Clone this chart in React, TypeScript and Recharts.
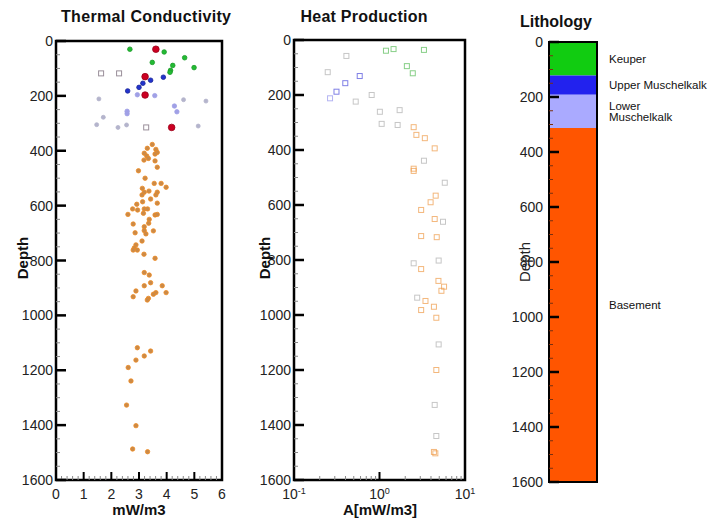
import React from "react";
import {
  Bar,
  BarChart,
  ReferenceArea,
  Scatter,
  ScatterChart,
  XAxis,
  YAxis
} from "recharts";

const FONT = '"Liberation Sans", Arial, sans-serif';

// depth axis (m), shared by all three panels
const depthLabels = [0, 200, 400, 600, 800, 1000, 1200, 1400, 1600];
const depthTicks = Array.from({ length: 33 }, (_, i) => i * 50);
const tcLabels = [0, 1, 2, 3, 4, 5, 6];
const tcTicks = Array.from({ length: 31 }, (_, i) => Math.round(i * 2) / 10);
const hpLabels = [0.1, 1, 10];
const hpTicks = [0.1, 0.2, 0.3, 0.4, 0.5, 0.6, 0.7, 0.8, 0.9, 1, 2, 3, 4, 5, 6, 7, 8, 9, 10];

// Thermal conductivity samples: [value, depth]
const tcKeuper = [[2.67, 30], [3.91, 40], [4.65, 61], [3.48, 78], [4.22, 89], [4.99, 97], [4.14, 107], [4.12, 114]];
const tcRed = [[3.61, 30], [3.22, 130], [3.22, 197], [4.18, 315]];
const tcUpper = [[3.42, 143], [3.88, 132], [3.14, 154], [3.0, 169], [2.59, 182]];
const tcLower = [[2.94, 196], [3.57, 199], [4.28, 237], [4.37, 258], [2.57, 256], [2.57, 265]];
const tcGrey = [[1.55, 211], [4.61, 214], [5.42, 219], [1.71, 278], [1.47, 305], [2.24, 315], [2.55, 306], [5.14, 310]];
const tcOpen = [[1.63, 118], [2.28, 118], [3.26, 315]];
const tcBasement = [
  [3.48, 377], [3.3, 391], [3.61, 395], [3.19, 409], [3.66, 406], [3.28, 419], [3.58, 412], [3.34, 428],
  [3.18, 434], [3.58, 437], [3.66, 460], [2.98, 473], [3.22, 500], [3.55, 519], [3.8, 519], [3.98, 533],
  [3.12, 537], [3.36, 547], [3.19, 551], [3.66, 551], [3.61, 561], [3.11, 561], [3.42, 576], [3.13, 586],
  [3.66, 591], [2.92, 595], [2.77, 612], [2.95, 616], [3.19, 612], [3.31, 612], [3.16, 628], [2.6, 632],
  [3.58, 634], [3.66, 632], [3.37, 650], [3.35, 664], [2.79, 667], [3.19, 677], [3.19, 691], [3.52, 692],
  [2.86, 699], [3.25, 703], [3.11, 729], [2.89, 743], [2.83, 754], [2.79, 762], [2.94, 762], [3.18, 777],
  [3.58, 792], [3.19, 844], [3.37, 853], [3.42, 881], [3.19, 892], [3.84, 892], [2.89, 911], [3.61, 917],
  [3.52, 923], [3.98, 917], [2.79, 932], [3.34, 938], [3.3, 944], [2.94, 1118], [3.42, 1130], [3.19, 1148],
  [2.89, 1163], [2.61, 1190], [2.71, 1239], [2.55, 1327], [2.89, 1402], [2.77, 1487], [3.31, 1497]
];

// Heat production samples: [value, depth]
const hpKeuper = [[1.19, 39], [1.46, 33], [3.31, 36], [2.09, 95], [2.45, 121]];
const hpUpper = [[0.587, 131], [0.398, 157], [0.314, 188]];
const hpLower = [[0.264, 212]];
const hpGrey = [
  [0.41, 58], [0.248, 117], [0.527, 224], [0.81, 200], [1.01, 261], [1.72, 255], [1.06, 305], [1.63, 309],
  [3.31, 439], [5.8, 519], [5.53, 661], [2.51, 812], [4.92, 802], [2.76, 937], [4.92, 1107], [4.42, 1327], [4.62, 1440]
];
const hpBasement = [
  [2.51, 317], [2.7, 345], [3.39, 357], [4.42, 394], [2.51, 468], [2.51, 476], [4.54, 566], [3.96, 590],
  [3.07, 618], [4.42, 651], [3.07, 713], [4.67, 717], [3.07, 833], [4.89, 876], [5.69, 897], [5.3, 912],
  [3.45, 949], [4.33, 970], [3.07, 982], [4.62, 1010], [4.62, 1200], [4.33, 1498], [4.5, 1503]
];

// Lithology column
const layerNames = [["Keuper"], ["Upper Muschelkalk"], ["Lower", "Muschelkalk"], ["Basement"]];
const layerTops = [0, 122, 192, 313];
const layerBottoms = [122, 192, 313, 1600];
const layerColors = ["#11cc11", "#2222ee", "#aaaaff", "#ff5500"];

const toPts = (arr: number[][]) => arr.map(([x, y]) => ({ x, y }));

const lithoRow: Record<string, any> = { name: "litho" };
layerNames.forEach((_, i) => {
  lithoRow["l" + i] = layerBottoms[i] - layerTops[i];
});

const dot = (r: number, fill: string, stroke: string) => (p: any) => (
  <circle cx={p.cx} cy={p.cy} r={r} fill={fill} stroke={stroke} strokeWidth={0.8} />
);
const box = (stroke: string, op = 1) => (p: any) => (
  <rect x={p.cx - 2.5} y={p.cy - 2.5} width={5} height={5} fill="none" stroke={stroke} strokeOpacity={op} strokeWidth={1} />
);

const TMY = 3;
function DepthTick(props: any) {
  const { x, y, payload } = props;
  const v = payload.value;
  const major = depthLabels.includes(v);
  const x0 = x + TMY;
  return (
    <g>
      <line x1={x0} x2={x0 + (major ? 10 : 4)} y1={y} y2={y} stroke={major ? "#000" : "#888"} strokeWidth={major ? 2.5 : 1} />
      {major && (
        <text x={x} y={y} dy="0.36em" textAnchor="end" fontSize={14} fill="#222" fontFamily={FONT}>
          {v}
        </text>
      )}
    </g>
  );
}

function LithoTick(props: any) {
  const { x, y, payload } = props;
  const v = payload.value;
  const major = depthLabels.includes(v);
  const x0 = x + 6;
  return (
    <g>
      <line x1={x0} x2={x0 + (major ? 10 : 4)} y1={y} y2={y} stroke={major ? "#000" : "#7a3010"} strokeWidth={major ? 2.5 : 1} />
      {major && (
        <text x={x} y={y} dy="0.36em" textAnchor="end" fontSize={14} fill="#222" fontFamily={FONT}>
          {v}
        </text>
      )}
    </g>
  );
}

const TMX = 8;
function TcTick(props: any) {
  const { x, y, payload } = props;
  const v = payload.value;
  const major = tcLabels.some((t) => Math.abs(t - v) < 1e-6);
  const y0 = y - TMX;
  return (
    <g>
      <line x1={x} x2={x} y1={y0} y2={y0 - (major ? 8 : 4)} stroke={major ? "#000" : "#888"} strokeWidth={major ? 2 : 1} />
      {major && (
        <text x={x} y={y} dy="0.75em" textAnchor="middle" fontSize={14} fill="#222" fontFamily={FONT}>
          {Math.round(v)}
        </text>
      )}
    </g>
  );
}

function HpTick(props: any) {
  const { x, y, payload } = props;
  const v = payload.value;
  const major = hpLabels.some((t) => Math.abs(t - v) < 1e-9);
  const y0 = y - TMX;
  const exp = Math.round(Math.log10(v));
  return (
    <g>
      <line x1={x} x2={x} y1={y0} y2={y0 - (major ? 8 : 4)} stroke={major ? "#000" : "#888"} strokeWidth={major ? 2 : 1} />
      {major && (
        <text x={x} y={y} dy="0.8em" textAnchor="middle" fontSize={14} fill="#222" fontFamily={FONT}>
          10
          <tspan dy="-0.55em" fontSize={9}>
            {exp}
          </tspan>
        </text>
      )}
    </g>
  );
}

function LayerLabel(lines: string[]) {
  return (p: any) => {
    const cy = p.y + p.height / 2;
    const n = lines.length;
    return (
      <g>
        {lines.map((t, k) => (
          <text
            key={k}
            x={p.x + p.width + 12}
            y={cy + (k - (n - 1) / 2) * 11}
            dy="0.35em"
            fontSize={11.5}
            fill="#111"
            fontFamily={FONT}
          >
            {t}
          </text>
        ))}
      </g>
    );
  };
}

export default function App() {
  return (
    <div style={{ position: "absolute", left: 0, top: 0, width: 725, height: 520, background: "#fff", fontFamily: FONT }}>
      <div style={{ position: "absolute", left: 0, top: 0 }}>
        <ScatterChart width={240} height={520} margin={{ top: 41, right: 18, bottom: 20, left: 0 }}>
          <XAxis
            type="number"
            dataKey="x"
            domain={[0, 6]}
            ticks={tcTicks}
            interval={0}
            tick={<TcTick />}
            tickSize={0}
            tickMargin={TMX}
            axisLine={false}
            height={20}
          />
          <YAxis
            type="number"
            dataKey="y"
            domain={[0, 1600]}
            reversed
            ticks={depthTicks}
            interval={0}
            tick={<DepthTick />}
            tickSize={0}
            tickMargin={TMY}
            axisLine={false}
            width={56}
          />
          <Scatter data={toPts(tcGrey)} shape={dot(2, "#b4b4cc", "#b4b4cc")} isAnimationActive={false} />
          <Scatter data={toPts(tcOpen)} shape={box("#9a8f9a")} isAnimationActive={false} />
          <Scatter data={toPts(tcLower)} shape={dot(2.2, "#a0a0e6", "#a0a0e6")} isAnimationActive={false} />
          <Scatter data={toPts(tcKeuper)} shape={dot(2.3, "#22bb33", "#1c9a2a")} isAnimationActive={false} />
          <Scatter data={toPts(tcUpper)} shape={dot(2.3, "#2233cc", "#1a2699")} isAnimationActive={false} />
          <Scatter data={toPts(tcBasement)} shape={dot(2.2, "#c98a4a", "#f08a20")} isAnimationActive={false} />
          <Scatter data={toPts(tcRed)} shape={dot(3.3, "#cc0022", "#990018")} isAnimationActive={false} />
          <ReferenceArea x1={0} x2={6} y1={0} y2={1600} fill="none" stroke="#000" strokeWidth={2.5} />
        </ScatterChart>
      </div>

      <div style={{ position: "absolute", left: 240, top: 0 }}>
        <ScatterChart width={240} height={520} margin={{ top: 40, right: 15, bottom: 20, left: 0 }}>
          <XAxis
            type="number"
            dataKey="x"
            scale="log"
            domain={[0.1, 10]}
            allowDataOverflow
            ticks={hpTicks}
            interval={0}
            tick={<HpTick />}
            tickSize={0}
            tickMargin={TMX}
            axisLine={false}
            height={20}
          />
          <YAxis
            type="number"
            dataKey="y"
            domain={[0, 1600]}
            reversed
            ticks={depthTicks}
            interval={0}
            tick={<DepthTick />}
            tickSize={0}
            tickMargin={TMY}
            axisLine={false}
            width={54}
          />
          <Scatter data={toPts(hpGrey)} shape={box("#b8b8b8", 0.8)} isAnimationActive={false} />
          <Scatter data={toPts(hpKeuper)} shape={box("#55bb55", 0.7)} isAnimationActive={false} />
          <Scatter data={toPts(hpUpper)} shape={box("#5555dd", 0.75)} isAnimationActive={false} />
          <Scatter data={toPts(hpLower)} shape={box("#9999ee", 0.75)} isAnimationActive={false} />
          <Scatter data={toPts(hpBasement)} shape={box("#ee9944", 0.7)} isAnimationActive={false} />
          <ReferenceArea x1={0.1} x2={10} y1={0} y2={1600} fill="none" stroke="#000" strokeWidth={2.5} />
        </ScatterChart>
      </div>

      <div style={{ position: "absolute", left: 490, top: 0 }}>
        <BarChart
          width={235}
          height={520}
          data={[lithoRow]}
          margin={{ top: 42, right: 128, bottom: 38, left: 0 }}
          barCategoryGap={0}
        >
          <XAxis dataKey="name" hide />
          <YAxis
            type="number"
            domain={[0, 1600]}
            reversed
            ticks={depthTicks}
            interval={0}
            tick={<LithoTick />}
            tickSize={0}
            tickMargin={6}
            axisLine={false}
            width={59}
            zIndex={1000}
          />
          {layerNames.map((lines, i) => (
            <Bar
              key={i}
              dataKey={"l" + i}
              stackId="litho"
              fill={layerColors[i]}
              isAnimationActive={false}
              label={LayerLabel(lines)}
            />
          ))}
          <ReferenceArea y1={0} y2={1600} fill="none" stroke="#000" strokeWidth={2} zIndex={1000} />
        </BarChart>
      </div>

      <svg width={725} height={520} style={{ position: "absolute", left: 0, top: 0, pointerEvents: "none" }}>
        <g fontFamily={FONT} fill="#111" fontWeight="bold">
          <text x={146} y={22} fontSize={16} textAnchor="middle" textLength={170}>Thermal Conductivity</text>
          <text x={364} y={22} fontSize={16} textAnchor="middle" textLength={127}>Heat Production</text>
          <text x={556} y={27} fontSize={16} textAnchor="middle" textLength={72}>Lithology</text>
          <text x={139} y={515} fontSize={15} textAnchor="middle">mW/m3</text>
          <text x={380} y={515} fontSize={15} textAnchor="middle">A[mW/m3]</text>
          <text transform="translate(28,258) rotate(-90)" fontSize={15} textAnchor="middle">Depth</text>
          <text transform="translate(270,258) rotate(-90)" fontSize={15} textAnchor="middle">Depth</text>
        </g>
        <text transform="translate(530,262) rotate(-90)" fontSize={15} textAnchor="middle" fontFamily={FONT} fill="#222">
          Depth
        </text>
      </svg>
    </div>
  );
}
